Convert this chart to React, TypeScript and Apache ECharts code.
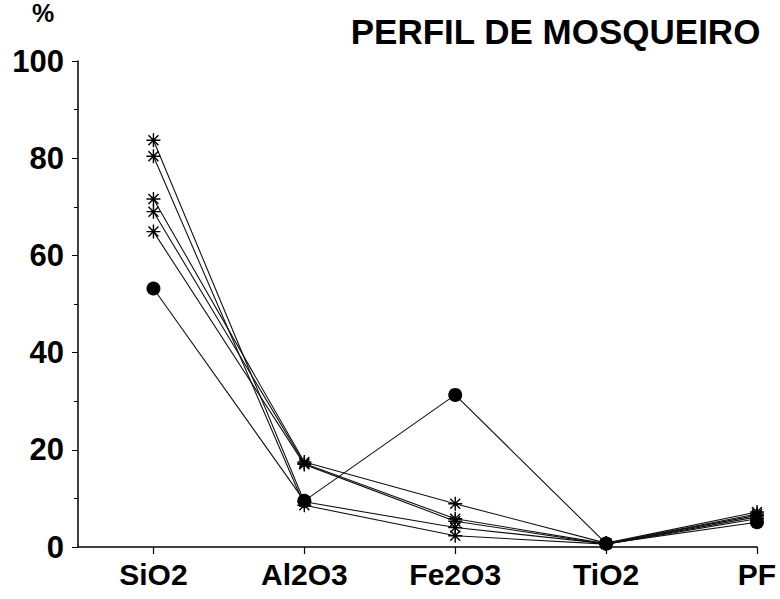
import React, { useEffect, useRef } from "react";
import * as echarts from "echarts";

const categories = ["SiO2", "Al2O3", "Fe2O3", "TiO2", "PF"];
const yTicks = [0, 20, 40, 60, 80, 100];

const amostraA = [83.7, 9.3, 4.0, 0.7, 6.8];
const amostraB = [80.4, 8.6, 2.3, 0.6, 6.2];
const amostraC = [71.6, 17.5, 8.9, 0.8, 7.2];
const amostraD = [69.0, 17.2, 5.8, 0.7, 6.5];
const amostraE = [64.9, 17.0, 5.3, 0.6, 5.8];
const amostraF = [53.2, 9.5, 31.3, 0.7, 5.1];

const asteriskSeries = [amostraA, amostraB, amostraC, amostraD, amostraE];

const ASTERISK =
  "path://M8,0L8,16M0,8L16,8M2.3,2.3L13.7,13.7M2.3,13.7L13.7,2.3";

const FONT = "'Liberation Sans', Arial, sans-serif";

export default function App() {
  const ref = useRef<HTMLDivElement>(null);

  useEffect(() => {
    if (!ref.current) return;
    const chart = echarts.init(ref.current, undefined, { renderer: "svg" });

    const toPoints = (arr: number[]) => arr.map((v, i) => [i, v]);

    const series: any[] = asteriskSeries.map((arr, k) => ({
      type: "line",
      name: "Amostra " + (k + 1),
      data: toPoints(arr),
      symbol: ASTERISK,
      symbolSize: 14,
      lineStyle: { color: "#111", width: 1.1 },
      itemStyle: { color: "#000", borderColor: "#000", borderWidth: 1.4 },
      z: 3,
    }));
    series.push({
      type: "line",
      name: "Amostra 6",
      data: toPoints(amostraF),
      symbol: "circle",
      symbolSize: 14,
      lineStyle: { color: "#111", width: 1.1 },
      itemStyle: { color: "#000", borderWidth: 0 },
      z: 4,
    });

    chart.setOption({
      animation: false,
      backgroundColor: "#fff",
      title: {
        text: "PERFIL DE MOSQUEIRO",
        right: 14,
        top: 9,
        textStyle: {
          fontFamily: FONT,
          fontWeight: "bold",
          fontSize: 35,
          color: "#000",
        },
      },
      graphic: [
        {
          type: "text",
          left: 32,
          top: 0,
          style: {
            text: "%",
            fontFamily: FONT,
            fontWeight: "bold",
            fontSize: 25,
            fill: "#000",
          },
        },
      ],
      grid: { left: 78, right: 23, top: 61, bottom: 52 },
      xAxis: {
        type: "value",
        min: -0.5,
        max: 4,
        splitLine: { show: false },
        axisLine: { lineStyle: { color: "#000", width: 1.5 } },
        axisTick: {
          show: true,
          inside: false,
          customValues: [0, 1, 2, 3, 4],
          length: 7,
          lineStyle: { color: "#000", width: 1.2 },
        },
        axisLabel: {
          customValues: [0, 1, 2, 3, 4],
          formatter: (v: number) => categories[Math.round(v)] ?? "",
          fontFamily: FONT,
          fontWeight: "bold",
          fontSize: 30,
          color: "#000",
          margin: 12,
        },
      },
      yAxis: {
        type: "value",
        position: "left",
        min: 0,
        max: 100,
        interval: 20,
        splitLine: { show: false },
        axisLine: {
          show: true,
          onZero: false,
          lineStyle: { color: "#000", width: 1.5 },
        },
        axisTick: {
          show: true,
          inside: false,
          length: 6,
          lineStyle: { color: "#000", width: 1 },
        },
        minorTick: {
          show: true,
          splitNumber: 2,
          length: 4,
          lineStyle: { color: "#000", width: 1 },
        },
        axisLabel: {
          formatter: (v: number) => (yTicks.includes(v) ? String(v) : ""),
          fontFamily: FONT,
          fontWeight: "bold",
          fontSize: 31,
          color: "#000",
          margin: 14,
        },
      },
      series,
    });

    return () => chart.dispose();
  }, []);

  return (
    <div
      ref={ref}
      style={{ position: "fixed", left: 0, top: 0, width: 780, height: 599 }}
    />
  );
}
